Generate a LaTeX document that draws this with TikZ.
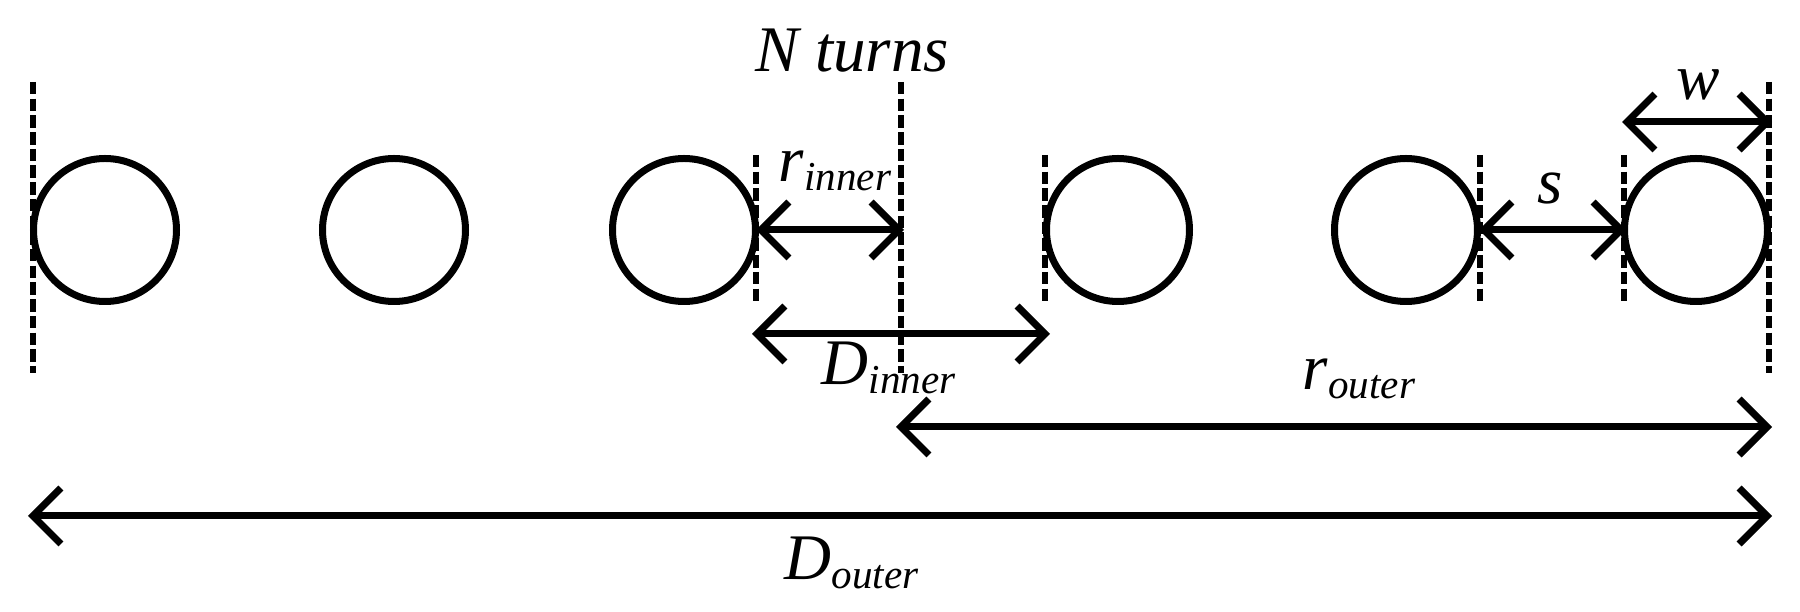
\documentclass[tikz,border=0pt]{standalone}
\usepackage{fontspec}
\setmainfont{Liberation Serif}
\usetikzlibrary{arrows.meta}
\newcommand{\sublabel}[2]{\textit{#1}\raisebox{-0.09cm}{\fontsize{11.7pt}{12pt}\selectfont\textit{#2}}}
\tikzset{
  turn/.style={circle, draw, line width=0.07cm, minimum size=1.43cm, inner sep=0pt},
  guide/.style={line width=0.065cm, dash pattern=on 0.125cm off 0.042cm},
  dim/.style={line width=0.07cm, line cap=round, {Straight Barb[length=0.28cm, width=0.56cm]}-{Straight Barb[length=0.28cm, width=0.56cm]}},
  lbl/.style={anchor=base west, inner sep=0pt, font=\fontsize{18.5pt}{20pt}\selectfont}
}
\begin{document}
\begin{tikzpicture}
  \useasboundingbox (0,0) rectangle (18,6.12);
  % turns
  \node[turn] (t1) at (1.05,3.82) {};
  \node[turn] (t2) at (3.94,3.82) {};
  \node[turn] (t3) at (6.84,3.82) {};
  \node[turn] (t4) at (11.18,3.82) {};
  \node[turn] (t5) at (14.06,3.82) {};
  \node[turn] (t6) at (16.96,3.82) {};
  % guide lines
  \coordinate (g1a) at (0.33,5.30);
  \coordinate (g1b) at (0.33,2.39);
  \coordinate (g2a) at (7.56,4.57);
  \coordinate (g2b) at (7.56,3.07);
  \coordinate (g3a) at (9.01,5.30);
  \coordinate (g3b) at (9.01,2.39);
  \coordinate (g4a) at (10.45,4.57);
  \coordinate (g4b) at (10.45,3.07);
  \coordinate (g5a) at (14.80,4.57);
  \coordinate (g5b) at (14.80,3.07);
  \coordinate (g6a) at (16.24,4.57);
  \coordinate (g6b) at (16.24,3.07);
  \coordinate (g7a) at (17.69,5.30);
  \coordinate (g7b) at (17.69,2.39);
  \draw[guide] (g1a) -- (g1b);
  \draw[guide] (g2a) -- (g2b);
  \draw[guide] (g3a) -- (g3b);
  \draw[guide] (g4a) -- (g4b);
  \draw[guide] (g5a) -- (g5b);
  \draw[guide] (g6a) -- (g6b);
  \draw[guide] (g7a) -- (g7b);
  % dimensions
  \coordinate (ril) at (7.56,3.82);
  \coordinate (rir) at (9.04,3.82);
  \coordinate (sl) at (14.79,3.82);
  \coordinate (sr) at (16.26,3.82);
  \coordinate (wl) at (16.22,4.90);
  \coordinate (wr) at (17.72,4.90);
  \coordinate (dil) at (7.52,2.78);
  \coordinate (dir) at (10.50,2.78);
  \coordinate (rol) at (8.96,1.85);
  \coordinate (ror) at (17.72,1.85);
  \coordinate (dol) at (0.28,0.96);
  \coordinate (dor) at (17.72,0.96);
  \draw[dim] (ril) -- (rir);
  \draw[dim] (sl) -- (sr);
  \draw[dim] (wl) -- (wr);
  \draw[dim] (dil) -- (dir);
  \draw[dim] (rol) -- (ror);
  \draw[dim] (dol) -- (dor);
  % labels
  \node[lbl] (nturns) at (7.55,5.40) {\textit{N turns}};
  \node[lbl] (rinner) at (7.78,4.30) {\sublabel{r}{inner}};
  \node[lbl] (dinner) at (8.21,2.27) {\sublabel{D}{inner}};
  \node[lbl] (sp) at (15.37,4.08) {\textit{s}};
  \node[lbl] (wd) at (16.76,5.12) {\textit{w}};
  \node[lbl] (router) at (13.02,2.22) {\sublabel{r}{outer}};
  \node[lbl] (douter) at (7.84,0.32) {\sublabel{D}{outer}};
\end{tikzpicture}
\end{document}
